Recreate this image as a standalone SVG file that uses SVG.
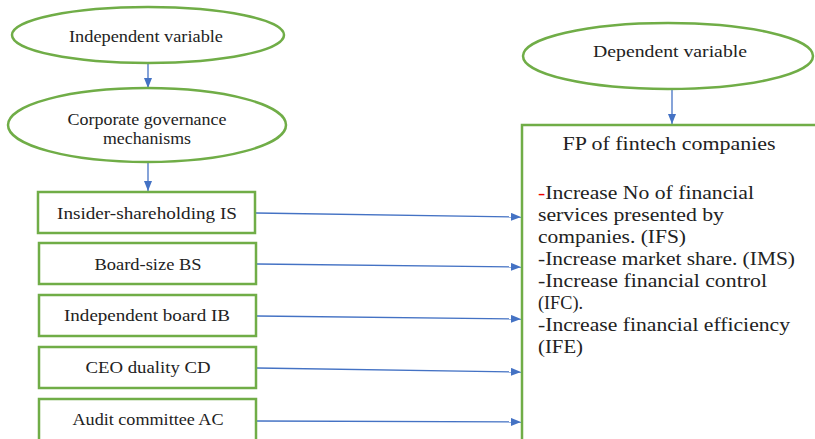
<svg xmlns="http://www.w3.org/2000/svg" width="815" height="439" viewBox="0 0 815 439">
<style>
.g{fill:#fff;stroke:#70AD47;stroke-width:2.5}
text{font-family:'Liberation Serif','DejaVu Serif',serif;fill:#222}
.t{font-size:16px;text-anchor:middle}
.b{font-size:18px}
.c{stroke:#4472C4;stroke-width:1.3;fill:none;marker-end:url(#ah)}
</style>
<defs>
<marker id="ah" markerWidth="10" markerHeight="8" refX="10" refY="4" orient="auto" markerUnits="userSpaceOnUse">
<path d="M0,0 L10,4 L0,8 Z" fill="#4472C4"/>
</marker>
</defs>
<g id="connectors">
<line class="c" x1="148" y1="64" x2="148" y2="88"/>
<line class="c" x1="148" y1="163" x2="148" y2="191"/>
<line class="c" x1="672" y1="90" x2="672" y2="124"/>
<line class="c" x1="256" y1="213" x2="521" y2="217"/>
<line class="c" x1="257" y1="264" x2="521" y2="267"/>
<line class="c" x1="257" y1="316" x2="521" y2="319"/>
<line class="c" x1="257" y1="368" x2="521" y2="372"/>
<line class="c" x1="257" y1="421" x2="521" y2="422"/>
</g>
<g id="independent">
<ellipse class="g" cx="148" cy="35" rx="136" ry="28"/>
<text class="t" x="146" y="42" textLength="154" lengthAdjust="spacingAndGlyphs">Independent variable</text>
</g>
<g id="cgm">
<ellipse class="g" cx="147" cy="125" rx="139" ry="37"/>
<text class="t" x="147" y="125" textLength="159" lengthAdjust="spacingAndGlyphs">Corporate governance</text>
<text class="t" x="147" y="144" textLength="88" lengthAdjust="spacingAndGlyphs">mechanisms</text>
</g>
<g id="is">
<rect class="g" x="38" y="192" width="217" height="41"/>
<text class="t" x="147" y="219" textLength="180" lengthAdjust="spacingAndGlyphs">Insider-shareholding  IS</text>
</g>
<g id="bs">
<rect class="g" x="39" y="243" width="217" height="41"/>
<text class="t" x="148" y="270" textLength="107" lengthAdjust="spacingAndGlyphs">Board-size  BS</text>
</g>
<g id="ib">
<rect class="g" x="39" y="295" width="217" height="41"/>
<text class="t" x="147" y="321" textLength="166" lengthAdjust="spacingAndGlyphs">Independent  board  IB</text>
</g>
<g id="cd">
<rect class="g" x="39" y="347" width="217" height="41"/>
<text class="t" x="148" y="373" textLength="125" lengthAdjust="spacingAndGlyphs">CEO duality  CD</text>
</g>
<g id="ac">
<rect class="g" x="39" y="399" width="217" height="45"/>
<text class="t" x="148" y="425" textLength="151" lengthAdjust="spacingAndGlyphs">Audit committee AC</text>
</g>
<g id="dependent">
<ellipse class="g" cx="668" cy="56" rx="145" ry="33"/>
<text class="t" x="670" y="57" textLength="154" lengthAdjust="spacingAndGlyphs">Dependent variable</text>
</g>
<g id="fp">
<rect class="g" x="522" y="125" width="300" height="320"/>
<text class="t" x="669" y="150" style="font-size:19px" textLength="213" lengthAdjust="spacingAndGlyphs">FP of fintech companies</text>
<text class="b" x="538" y="199" textLength="216" lengthAdjust="spacingAndGlyphs"><tspan fill="#e00">-</tspan>Increase No of financial</text>
<text class="b" x="538" y="221" textLength="186" lengthAdjust="spacingAndGlyphs">services presented by</text>
<text class="b" x="538" y="243" textLength="148" lengthAdjust="spacingAndGlyphs">companies. (IFS)</text>
<text class="b" x="538" y="265" textLength="257" lengthAdjust="spacingAndGlyphs">-Increase market share. (IMS)</text>
<text class="b" x="538" y="287" textLength="229" lengthAdjust="spacingAndGlyphs">-Increase financial control</text>
<text class="b" x="538" y="309" textLength="45" lengthAdjust="spacingAndGlyphs">(IFC).</text>
<text class="b" x="538" y="331" textLength="252" lengthAdjust="spacingAndGlyphs">-Increase financial efficiency</text>
<text class="b" x="538" y="353" textLength="45" lengthAdjust="spacingAndGlyphs">(IFE)</text>
</g>
</svg>
